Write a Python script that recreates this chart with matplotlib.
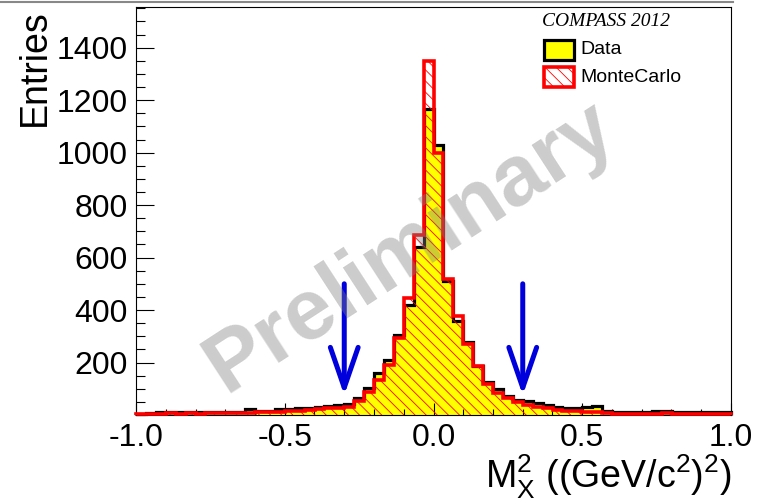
import numpy as np
import matplotlib
matplotlib.use("Agg")
import matplotlib.pyplot as plt
from matplotlib.patches import Rectangle
from matplotlib.lines import Line2D

# ---------------- data ----------------
x_range = (-1.0, 1.0)
n_bins = 60

data_counts = [5, 8, 10, 10, 11, 10, 11, 10, 10, 13, 13, 21, 17, 15, 22, 24, 26, 28, 32, 36,
               40, 43, 66, 101, 160, 210, 304, 420, 640, 1165, 1030, 510, 357, 278, 185, 125, 100, 74, 59, 53,
               45, 40, 32, 28, 26, 30, 34, 14, 12, 11, 10, 12, 15, 17, 13, 12, 12, 11, 12, 11]

mc_counts = [2, 5, 4, 6, 3, 6, 4, 6, 7, 8, 8, 9, 10, 12, 13, 15, 17, 19, 22, 25,
             28, 30, 55, 87, 135, 192, 292, 445, 686, 1350, 1000, 517, 378, 272, 188, 118, 85, 63, 50, 40,
             32, 28, 20, 17, 15, 11, 11, 8, 5, 4, 3, 5, 4, 6, 3, 5, 4, 4, 5, 3]

arrow_x = [-0.3, 0.3]
arrow_top = 500
arrow_tip = 75

x_ticks = [-1.0, -0.5, 0.0, 0.5, 1.0]
x_tick_labels = ["-1.0", "-0.5", "0.0", "0.5", "1.0"]
y_ticks = [200, 400, 600, 800, 1000, 1200, 1400]
y_tick_labels = ["200", "400", "600", "800", "1000", "1200", "1400"]
y_max = 1555

legend_title = "COMPASS 2012"
legend_labels = ["Data", "MonteCarlo"]

# ---------------- style ----------------
plt.rcParams["font.family"] = ["Liberation Sans", "DejaVu Sans"]
plt.rcParams["mathtext.fontset"] = "custom"
plt.rcParams["mathtext.rm"] = "Liberation Sans"
plt.rcParams["mathtext.it"] = "Liberation Sans:italic"
plt.rcParams["hatch.linewidth"] = 0.6

W, H = 759, 501
fig = plt.figure(figsize=(W / 100, H / 100), dpi=100)
L, R, T, B = 136, 731, 7, 415
ax = fig.add_axes([L / W, 1 - B / H, (R - L) / W, (B - T) / H])

edges = np.linspace(x_range[0], x_range[1], n_bins + 1)
data = np.array(data_counts, dtype=float)
mc = np.array(mc_counts, dtype=float)

# Data: yellow fill with black outline
ax.stairs(data, edges, fill=True, facecolor="#ffff00", edgecolor="none", zorder=1)
ax.stairs(data, edges, baseline=0, color="black", linewidth=2.3, zorder=2, clip_on=False)
# MC: red hatch + red outline
ax.stairs(mc, edges, fill=True, facecolor="none", edgecolor="red", linewidth=0,
          hatch="\\\\\\", zorder=3)
ax.stairs(mc, edges, baseline=0, color="red", linewidth=2.6, zorder=4, clip_on=False)

# Watermark
fig.text(410 / W, 1 - 248 / H, "Preliminary", rotation=33, fontsize=62, fontweight="bold",
         color="#808080", alpha=0.4, ha="center", va="center", zorder=10)

# Arrows
for xa in arrow_x:
    ax.annotate("", xy=(xa, arrow_tip), xytext=(xa, arrow_top),
                arrowprops=dict(arrowstyle="->,head_length=2.9,head_width=1.0",
                                color="#0000dd", lw=3.6, shrinkA=0, shrinkB=0,
                                mutation_scale=10, capstyle="round", joinstyle="round"),
                zorder=12)

ax.set_xlim(*x_range)
ax.set_ylim(0, y_max)
ax.set_xticks(x_ticks)
ax.set_xticklabels(x_tick_labels)
ax.set_xticks(np.arange(-1.0, 1.0001, 0.1), minor=True)
ax.set_yticks(y_ticks)
ax.set_yticklabels(y_tick_labels)
ax.set_yticks(np.arange(0, y_max, 50), minor=True)

ax.tick_params(axis="x", which="major", direction="in", length=8.6, width=0.8, labelsize=23, pad=6,
               top=False)
ax.tick_params(axis="x", which="minor", direction="in", length=4, width=0.8, top=False)
ax.tick_params(axis="y", which="major", direction="in", length=13, width=0.8, labelsize=23, pad=6,
               right=False)
ax.tick_params(axis="y", which="minor", direction="in", length=6.5, width=0.8, right=False)
for s in ax.spines.values():
    s.set_linewidth(0.8)

# Axis titles
fig.text(35 / W, 1 - 9 / H, "Entries", rotation=90, fontsize=27, ha="center", va="top")
fig.text(732 / W, 0.0, r"M$_{\mathrm{X}}^{2}$ ((GeV/c$^{2}$)$^{2}$)", fontsize=27,
         ha="right", va="bottom")

# Legend (drawn manually)
fig.text(542 / W, 1 - 21 / H, legend_title, fontsize=14, family="Liberation Serif",
         style="italic", ha="left", va="center")
fig.add_artist(Rectangle((544 / W, 1 - 60 / H), 30 / W, 20 / H, transform=fig.transFigure,
                         facecolor="#ffff00", edgecolor="black", linewidth=2.3))
fig.add_artist(Rectangle((544 / W, 1 - 87 / H), 30 / W, 20 / H, transform=fig.transFigure,
                         facecolor="white", edgecolor="red", linewidth=2.6, hatch="\\\\\\"))
fig.text(580 / W, 1 - 49 / H, legend_labels[0], fontsize=14, ha="left", va="center")
fig.text(580 / W, 1 - 77 / H, legend_labels[1], fontsize=14, ha="left", va="center")

# screenshot border line at top
fig.add_artist(Line2D([0, 733 / W], [1 - 2 / H, 1 - 2 / H], transform=fig.transFigure,
                      color="#888888", linewidth=1.5))

fig.savefig("out.png", dpi=100)
